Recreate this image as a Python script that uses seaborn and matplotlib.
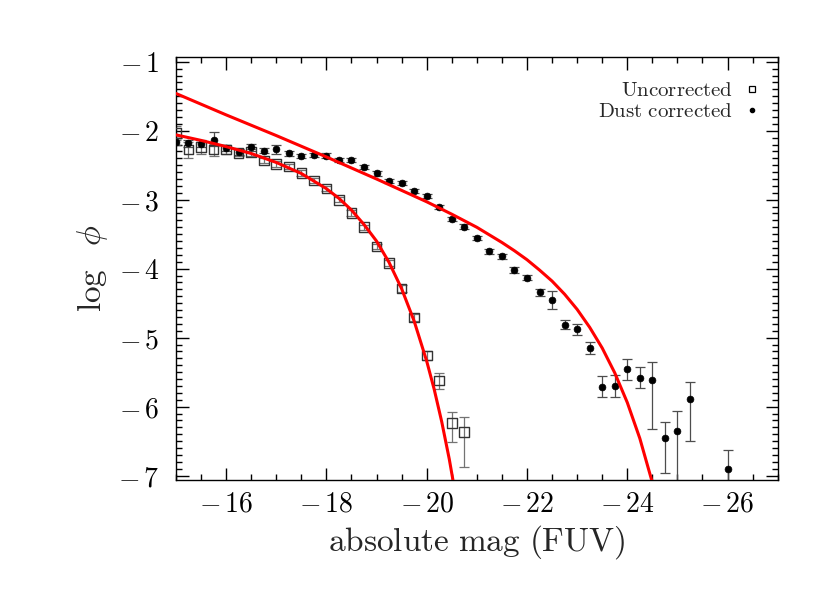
import matplotlib
matplotlib.use("Agg")
import matplotlib.pyplot as plt
from matplotlib.lines import Line2D
from matplotlib.ticker import MultipleLocator, FuncFormatter
import seaborn as sns

# absolute FUV magnitudes of the bins (0.25 mag steps)
mag_unc = [-15.0, -15.25, -15.5, -15.75, -16.0, -16.25, -16.5, -16.75, -17.0, -17.25,
           -17.5, -17.75, -18.0, -18.25, -18.5, -18.75, -19.0, -19.25, -19.5, -19.75,
           -20.0, -20.25, -20.5, -20.75]
logphi_unc = [-2.03, -2.27, -2.24, -2.27, -2.27, -2.32, -2.31, -2.43, -2.48, -2.52,
              -2.61, -2.72, -2.84, -3.00, -3.19, -3.40, -3.68, -3.92, -4.29, -4.71,
              -5.26, -5.62, -6.24, -6.37]
err_unc_lo = [0.10, 0.12, 0.10, 0.10, 0.07, 0.05, 0.05, 0.04, 0.04, 0.04,
              0.04, 0.04, 0.04, 0.04, 0.04, 0.04, 0.04, 0.04, 0.05, 0.05,
              0.06, 0.13, 0.27, 0.50]
err_unc_hi = [0.10, 0.10, 0.08, 0.08, 0.06, 0.05, 0.05, 0.04, 0.04, 0.04,
              0.04, 0.04, 0.04, 0.04, 0.04, 0.04, 0.04, 0.04, 0.05, 0.05,
              0.06, 0.11, 0.16, 0.22]

mag_dust = [-15.0, -15.25, -15.5, -15.75, -16.0, -16.25, -16.5, -16.75, -17.0, -17.25,
            -17.5, -17.75, -18.0, -18.25, -18.5, -18.75, -19.0, -19.25, -19.5, -19.75,
            -20.0, -20.25, -20.5, -20.75, -21.0, -21.25, -21.5, -21.75, -22.0, -22.25,
            -22.5, -22.75, -23.0, -23.25, -23.5, -23.75, -24.0, -24.25, -24.5, -24.75,
            -25.0, -25.25, -26.0]
logphi_dust = [-2.16, -2.18, -2.19, -2.14, -2.25, -2.31, -2.24, -2.29, -2.27, -2.33,
               -2.37, -2.35, -2.36, -2.43, -2.42, -2.53, -2.62, -2.73, -2.76, -2.88,
               -2.95, -3.10, -3.28, -3.39, -3.55, -3.75, -3.82, -4.02, -4.13, -4.34,
               -4.45, -4.81, -4.88, -5.15, -5.71, -5.70, -5.46, -5.58, -5.62, -6.46,
               -6.36, -5.89, -6.91]
err_dust_lo = [0.05, 0.05, 0.05, 0.08, 0.05, 0.04, 0.05, 0.04, 0.07, 0.03,
               0.03, 0.03, 0.03, 0.03, 0.03, 0.03, 0.03, 0.03, 0.03, 0.03,
               0.03, 0.03, 0.03, 0.04, 0.03, 0.03, 0.04, 0.04, 0.04, 0.05,
               0.13, 0.06, 0.08, 0.08, 0.15, 0.16, 0.15, 0.15, 0.70, 0.50,
               1.00, 0.61, 0.50]
err_dust_hi = [0.05, 0.05, 0.05, 0.12, 0.05, 0.04, 0.05, 0.04, 0.07, 0.03,
               0.03, 0.03, 0.03, 0.03, 0.03, 0.03, 0.03, 0.03, 0.03, 0.03,
               0.03, 0.03, 0.03, 0.04, 0.03, 0.03, 0.04, 0.04, 0.04, 0.05,
               0.13, 0.06, 0.08, 0.08, 0.15, 0.16, 0.15, 0.15, 0.27, 0.23,
               0.30, 0.25, 0.28]

# fitted curves
fit_unc_mag = [-15.0, -15.5, -16.0, -16.5, -17.0, -17.5, -18.0, -18.25, -18.5, -18.75,
               -19.0, -19.25, -19.5, -19.75, -20.0, -20.15, -20.3, -20.45, -20.6]
fit_unc_logphi = [-2.06, -2.14, -2.23, -2.33, -2.46, -2.62, -2.84, -2.98, -3.15, -3.36,
                  -3.60, -3.91, -4.29, -4.76, -5.34, -5.75, -6.22, -6.76, -7.38]
fit_dust_mag = [-15.0, -16.0, -17.0, -18.0, -19.0, -20.0, -20.5, -21.0, -21.25, -21.5,
                -21.75, -22.0, -22.25, -22.5, -22.75, -23.0, -23.25, -23.5, -23.75,
                -24.0, -24.25, -24.5, -24.6]
fit_dust_logphi = [-1.46, -1.77, -2.07, -2.38, -2.70, -3.03, -3.21, -3.40, -3.51, -3.62,
                   -3.74, -3.87, -4.02, -4.18, -4.37, -4.59, -4.85, -5.15, -5.51,
                   -5.94, -6.46, -7.10, -7.40]

sns.set_style("ticks")
plt.rcParams["mathtext.fontset"] = "cm"
plt.rcParams["font.family"] = ["DejaVu Serif"]

fig, ax = plt.subplots(figsize=(8.3, 5.93), dpi=100)
fig.subplots_adjust(left=0.212, right=0.937, bottom=0.191, top=0.904)

ax.errorbar(mag_unc, logphi_unc, yerr=[err_unc_lo, err_unc_hi], fmt="none",
            ecolor="0.45", elinewidth=0.9, capsize=3.5, capthick=0.9, zorder=2)
ax.errorbar(mag_dust, logphi_dust, yerr=[err_dust_lo, err_dust_hi], fmt="none",
            ecolor="0.3", elinewidth=0.9, capsize=3.5, capthick=0.9, zorder=2)

sns.scatterplot(x=mag_unc, y=logphi_unc, marker="s", s=48, color="0.2",
                facecolor="none", edgecolor="0.2", linewidth=1.0, ax=ax, zorder=3)
sns.scatterplot(x=mag_dust, y=logphi_dust, marker="o", s=24, color="black",
                edgecolor="black", linewidth=0.5, ax=ax, zorder=3)

sns.lineplot(x=fit_unc_mag, y=fit_unc_logphi, sort=False, color="#ff0000",
             linewidth=2.2, ax=ax, zorder=4)
sns.lineplot(x=fit_dust_mag, y=fit_dust_logphi, sort=False, color="#ff0000",
             linewidth=2.2, ax=ax, zorder=4)

ax.set_xlim(-15, -27)
ax.set_ylim(-7.06, -0.93)

ax.xaxis.set_major_locator(MultipleLocator(2))
ax.xaxis.set_minor_locator(MultipleLocator(0.5))
ax.yaxis.set_major_locator(MultipleLocator(1))
ax.yaxis.set_minor_locator(MultipleLocator(0.1))
fmt = FuncFormatter(lambda v, p: r"$-\,%d$" % round(abs(v)) if v < 0 else r"$%d$" % round(v))
ax.xaxis.set_major_formatter(fmt)
ax.yaxis.set_major_formatter(fmt)

ax.tick_params(which="both", direction="in", top=True, right=True, width=1.0,
               colors="black", labelsize=20)
ax.tick_params(which="major", length=9)
ax.tick_params(which="minor", length=4.5)
ax.tick_params(axis="x", which="major", pad=8)
ax.tick_params(axis="y", which="major", pad=12)
for sp in ax.spines.values():
    sp.set_linewidth(1.0)
    sp.set_color("black")

ax.set_xlabel(r"$\mathrm{absolute\ mag\ (FUV)}$", fontsize=24, labelpad=4)
ax.set_ylabel(r"$\log\ \ \phi$", fontsize=24, labelpad=6)

handles = [Line2D([], [], ls="none", marker="s", ms=5, mfc="none", mec="black", mew=0.9),
           Line2D([], [], ls="none", marker="o", ms=3, color="black")]
ax.legend(handles, [r"$\mathrm{Uncorrected}$", r"$\mathrm{Dust\ corrected}$"],
          loc="upper right", bbox_to_anchor=(1.0, 0.985), markerfirst=False,
          frameon=False, fontsize=15, handlelength=0.8, handletextpad=0.5,
          labelspacing=0.1, borderaxespad=0.45)

fig.savefig("out.png", dpi=100)
